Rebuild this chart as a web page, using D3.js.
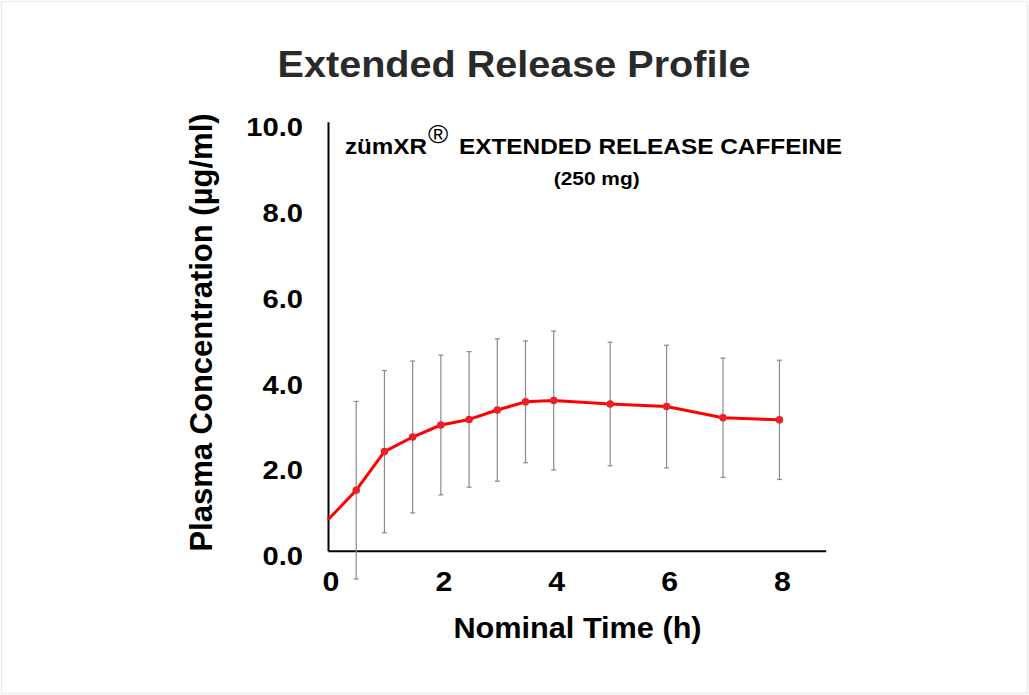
<!DOCTYPE html>
<html>
<head>
<meta charset="utf-8">
<script src="https://cdn.jsdelivr.net/npm/d3@7"></script>
<style>
  body { margin: 0; background: #fff; }
  svg { display: block; }
  text { font-family: "Liberation Sans", Arial, sans-serif; font-weight: bold; }
</style>
</head>
<body>
<div id="chart"></div>
<script>
// nominal time (h) and mean plasma caffeine concentration (ug/ml) with SD
const times = [0, 0.5, 1, 1.5, 2, 2.5, 3, 3.5, 4, 5, 6, 7, 8];
const meanConc = [0.72, 1.41, 2.31, 2.65, 2.93, 3.06, 3.28, 3.47, 3.50, 3.42, 3.36, 3.10, 3.05];
const sdConc = [null, 2.07, 1.89, 1.77, 1.63, 1.58, 1.66, 1.42, 1.62, 1.44, 1.43, 1.39, 1.39];
const xTicks = [0, 2, 4, 6, 8];
const yTicks = [0, 2, 4, 6, 8, 10];

const W = 1029, H = 695;
const margin = { top: 121.7, right: 203.3, bottom: 144.3, left: 328 };
const width = W - margin.left - margin.right,
    height = H - margin.top - margin.bottom;

const svg = d3.select("#chart")
    .append("svg")
    .attr("width", W)
    .attr("height", H);

// faint frame round the picture
svg.append("rect")
    .attr("x", 1.5).attr("y", 1.5)
    .attr("width", W - 3).attr("height", H - 3)
    .attr("fill", "none")
    .attr("stroke", "#ebebeb")
    .attr("stroke-width", 1.5);

const g = svg.append("g")
    .attr("transform", `translate(${margin.left},${margin.top})`);

const data = times.map((t, i) => ({ t: t, v: meanConc[i], sd: sdConc[i] }));

const x = d3.scaleLinear().domain([0, 8.82]).range([0, width]);
const y = d3.scaleLinear().domain([0, 10]).range([height, 0]);

// Title
svg.append("text")
    .attr("transform", "translate(514,76.5) scale(1.07,1)")
    .attr("text-anchor", "middle")
    .style("font-size", "37px")
    .attr("fill", "#2a2a2a")
    .text("Extended Release Profile");

// X axis
const xAxis = g.append("g")
    .attr("transform", `translate(0,${height})`)
    .call(d3.axisBottom(x).tickValues(xTicks).tickSize(0).tickPadding(0).tickFormat(d3.format("d")));
xAxis.select(".domain").attr("stroke", "#000").attr("stroke-width", 2);
xAxis.selectAll(".tick text")
    .attr("y", 0)
    .attr("dy", 0)
    .attr("transform", "translate(2.5,40.5) scale(1.08,1)")
    .attr("fill", "#000")
    .style("font-size", "28px");

// Y axis
const yAxis = g.append("g")
    .call(d3.axisLeft(y).tickValues(yTicks).tickSize(0).tickPadding(0).tickFormat(d3.format(".1f")));
yAxis.select(".domain").attr("stroke", "#000").attr("stroke-width", 2);
yAxis.selectAll(".tick text")
    .attr("x", 0)
    .attr("dy", 0)
    .attr("transform", "translate(-25,14) scale(1.1,1)")
    .attr("fill", "#000")
    .style("font-size", "26.5px");

// Axis titles
svg.append("text")
    .attr("transform", "translate(577.5,638) scale(1.04,1)")
    .attr("text-anchor", "middle")
    .style("font-size", "29.5px")
    .attr("fill", "#000")
    .text("Nominal Time (h)");

svg.append("text")
    .attr("transform", "translate(211.5,332.5) rotate(-90)")
    .attr("text-anchor", "middle")
    .style("font-size", "31px")
    .attr("fill", "#000")
    .text("Plasma Concentration (µg/ml)");

// Product label inside the plot
const label = svg.append("text")
    .attr("transform", "translate(345,154.3) scale(1.1,1)")
    .style("font-size", "22px")
    .attr("fill", "#000");
label.append("tspan").text("zümXR");
label.append("tspan").attr("dx", 1).attr("dy", -11).style("font-size", "25px").style("font-weight", "normal").text("®");

svg.append("text")
    .attr("x", 459)
    .attr("y", 154.3)
    .attr("textLength", 383)
    .attr("lengthAdjust", "spacingAndGlyphs")
    .style("font-size", "21.5px")
    .attr("fill", "#000")
    .text("EXTENDED RELEASE CAFFEINE");

svg.append("text")
    .attr("transform", "translate(596.7,184.5) scale(1.13,1)")
    .attr("text-anchor", "middle")
    .style("font-size", "18.5px")
    .attr("fill", "#000")
    .text("(250 mg)");

// Error bars
const withSd = data.filter(d => d.sd != null);
const bars = g.append("g").attr("stroke", "#8a8a8a").attr("stroke-width", 1.2);
withSd.forEach(d => {
    const cx = x(d.t), top = y(d.v + d.sd), bot = y(d.v - d.sd);
    bars.append("line").attr("x1", cx).attr("x2", cx).attr("y1", top).attr("y2", bot);
    bars.append("line").attr("x1", cx - 2.5).attr("x2", cx + 2.5).attr("y1", top).attr("y2", top);
    bars.append("line").attr("x1", cx - 2.5).attr("x2", cx + 2.5).attr("y1", bot).attr("y2", bot);
});

// Mean line
g.append("path")
    .datum(data)
    .attr("fill", "none")
    .attr("stroke", "#ff0000")
    .attr("stroke-width", 3)
    .attr("stroke-linejoin", "round")
    .attr("d", d3.line().x(d => x(d.t)).y(d => y(d.v)));

// Markers
g.selectAll(".dot")
    .data(withSd)
    .enter().append("circle")
    .attr("class", "dot")
    .attr("cx", d => x(d.t))
    .attr("cy", d => y(d.v))
    .attr("r", 3.8)
    .attr("fill", "#e8222a");
</script>
</body>
</html>
